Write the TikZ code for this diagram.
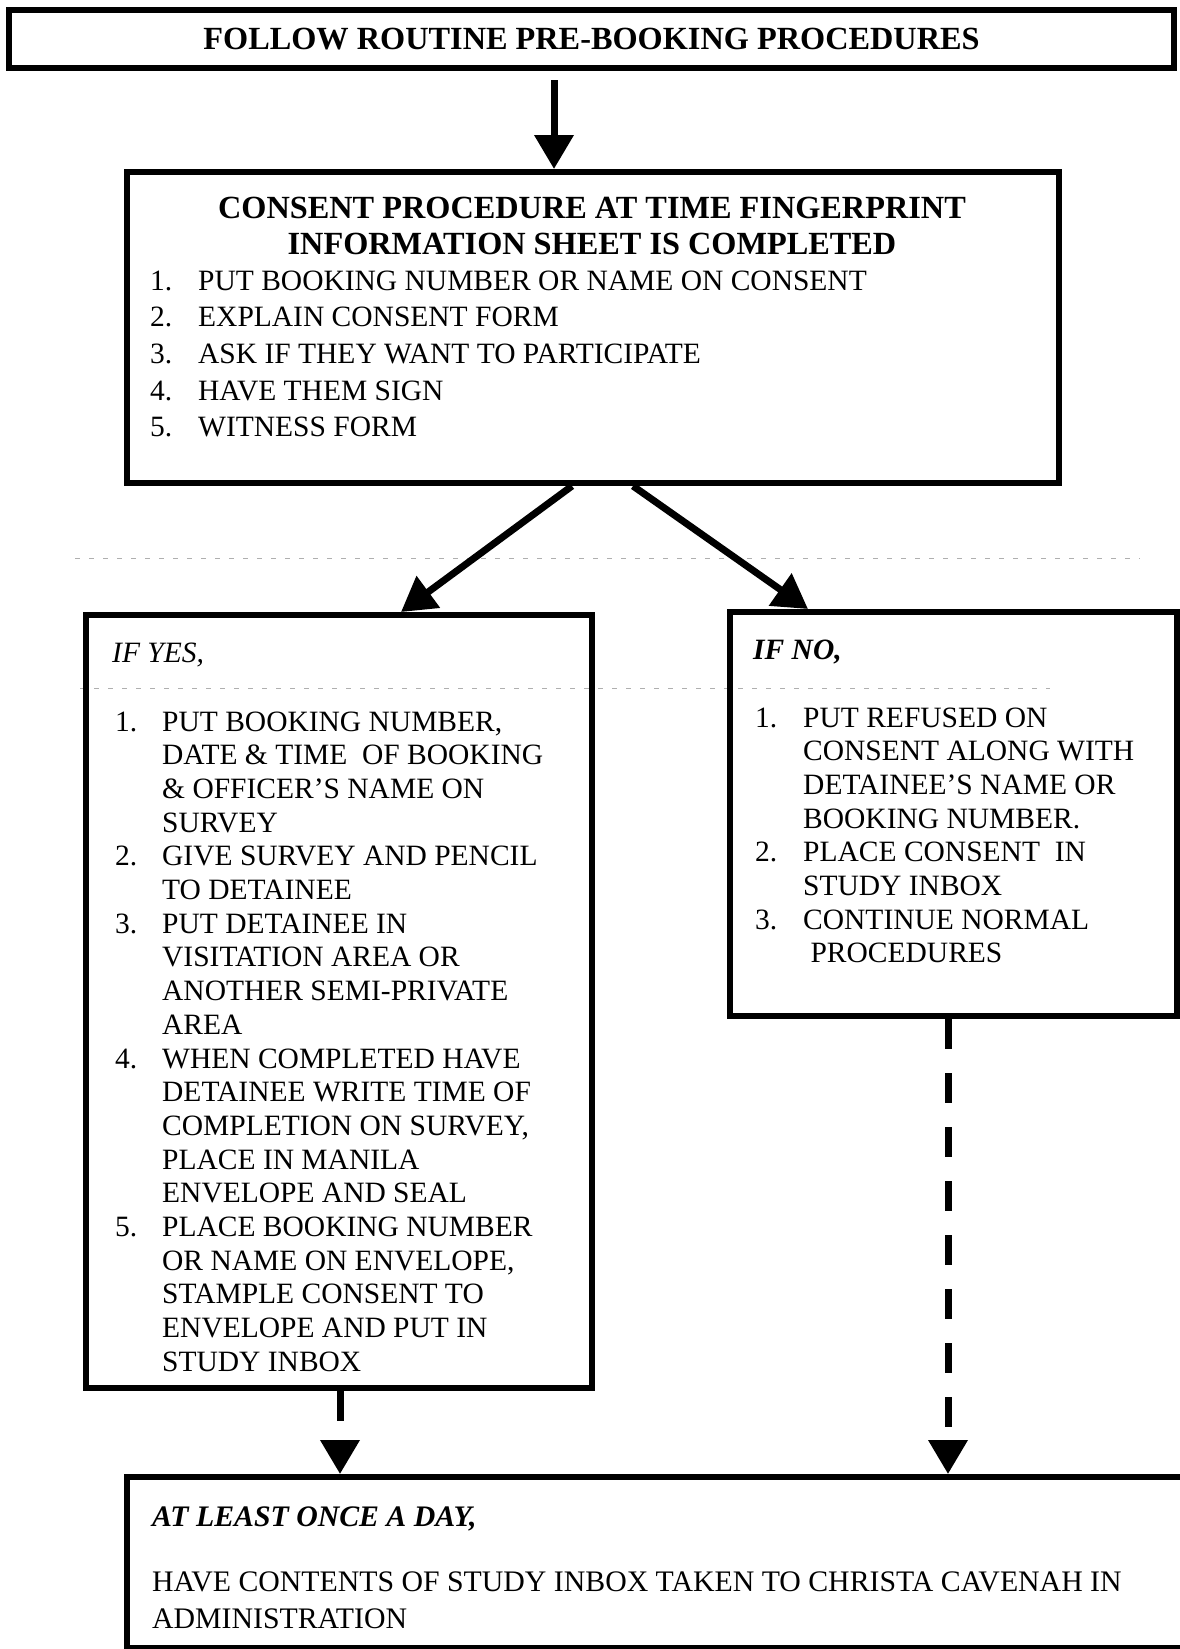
\documentclass[tikz,border=0pt]{standalone}
\usepackage{fontspec}
\setmainfont{Liberation Serif}
\usepackage{tikz}
\usetikzlibrary{arrows.meta,positioning}
\definecolor{scangray}{RGB}{175,175,175}

\begin{document}
\begin{tikzpicture}[
  x=1pt, y=-1pt,
  procbox/.style={rectangle, draw, line width=6pt, inner sep=0pt},
  flow/.style={-{Triangle[length=34pt,width=38pt]}, line width=7pt},
  dashflow/.style={flow, dash pattern=on 30pt off 24pt},
  headtxt/.style={font=\fontsize{32.3}{36}\selectfont\bfseries, inner sep=0pt},
  itemtxt/.style={font=\fontsize{29.5}{33.7}\selectfont, inner sep=0pt, anchor=base west},
  scanline/.style={draw=scangray, line width=0.8pt, dash pattern=on 5pt off 9pt},
]
  \useasboundingbox (0,0) rectangle (1180,1649);

  % Scan lines
  \draw[scanline] (75,558) -- (1140,558);
  \draw[scanline] (80,688) -- (1050,688);

  % Boxes
  \node[procbox, headtxt, minimum width=1165pt, minimum height=58pt] (top) at (591.5,39) {FOLLOW ROUTINE PRE-BOOKING PROCEDURES};
  \node[procbox, minimum width=932pt, minimum height=311pt] (consent) at (593,327.5) {};
  \node[procbox, minimum width=506pt, minimum height=773pt] (yes) at (339,1001.5) {};
  \node[procbox, minimum width=447pt, minimum height=404pt] (no) at (953.5,814) {};
  \node[procbox, minimum width=1073pt, minimum height=171pt] (daily) at (663.5,1562.5) {};

  % Consent text
  \node[headtxt, anchor=base] (ctitle) at (592,218) {\begin{tabular}[t]{@{}c@{}}
    CONSENT PROCEDURE AT TIME FINGERPRINT\\
    INFORMATION SHEET IS COMPLETED
  \end{tabular}};
  \node[itemtxt, font=\fontsize{29.5}{36.7}\selectfont] (clist) at (150,290) {\begin{tabular}[t]{@{}p{48pt}@{}l@{}}
    1. & PUT BOOKING NUMBER OR NAME ON CONSENT\\
    2. & EXPLAIN CONSENT FORM\\
    3. & ASK IF THEY WANT TO PARTICIPATE\\
    4. & HAVE THEM SIGN\\
    5. & WITNESS FORM
  \end{tabular}};

  % Yes text
  \node[itemtxt, font=\fontsize{29.5}{33.7}\selectfont\itshape] (yeshead) at (112,662) {IF YES,};
  \node[itemtxt] (yeslist) at (115,731) {\begin{tabular}[t]{@{}p{47pt}@{}l@{}}
    1. & PUT BOOKING NUMBER,\\
       & DATE \& TIME\ \ OF BOOKING\\
       & \& OFFICER'S NAME ON\\
       & SURVEY\\
    2. & GIVE SURVEY AND PENCIL\\
       & TO DETAINEE\\
    3. & PUT DETAINEE IN\\
       & VISITATION AREA OR\\
       & ANOTHER SEMI-PRIVATE\\
       & AREA\\
    4. & WHEN COMPLETED HAVE\\
       & DETAINEE WRITE TIME OF\\
       & COMPLETION ON SURVEY,\\
       & PLACE IN MANILA\\
       & ENVELOPE AND SEAL\\
    5. & PLACE BOOKING NUMBER\\
       & OR NAME ON ENVELOPE,\\
       & STAMPLE CONSENT TO\\
       & ENVELOPE AND PUT IN\\
       & STUDY INBOX
  \end{tabular}};

  % No text
  \node[itemtxt, font=\fontsize{29.5}{33.7}\selectfont\bfseries\itshape] (nohead) at (753,659) {IF NO,};
  \node[itemtxt] (nolist) at (755,727) {\begin{tabular}[t]{@{}p{48pt}@{}l@{}}
    1. & PUT REFUSED ON\\
       & CONSENT ALONG WITH\\
       & DETAINEE'S NAME OR\\
       & BOOKING NUMBER.\\
    2. & PLACE CONSENT\ \ IN\\
       & STUDY INBOX\\
    3. & CONTINUE NORMAL\\
       & \ PROCEDURES
  \end{tabular}};

  % Daily text
  \node[itemtxt, font=\fontsize{29.8}{37}\selectfont\bfseries\itshape] (dailyhead) at (152,1526) {AT LEAST ONCE A DAY,};
  \node[itemtxt, font=\fontsize{29.8}{37}\selectfont] (dailytxt) at (152,1591) {\begin{tabular}[t]{@{}l@{}}
    HAVE CONTENTS OF STUDY INBOX TAKEN TO CHRISTA CAVENAH IN\\
    ADMINISTRATION
  \end{tabular}};

  % Arrows
  \draw[flow, shorten <=9pt] ([xshift=-37.5pt]top.south) -- ([xshift=-39pt]consent.north);
  \draw[flow] ([xshift=-21pt]consent.south) -- ([xshift=62pt]yes.north);
  \draw[flow] ([xshift=40pt]consent.south) -- ([xshift=-145.5pt]no.north);
  \draw[dashflow] ([xshift=1pt]yes.south) -- ([xshift=-323.5pt]daily.north);
  \draw[dashflow] ([xshift=-5.5pt]no.south) -- ([xshift=284.5pt]daily.north);
\end{tikzpicture}
\end{document}
